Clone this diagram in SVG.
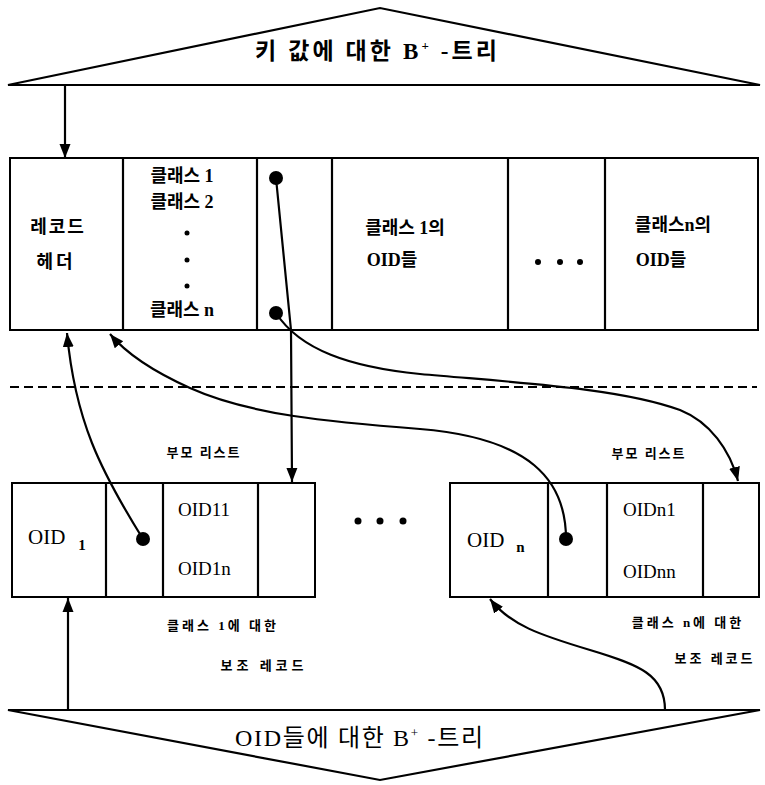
<svg xmlns="http://www.w3.org/2000/svg" width="765" height="785" viewBox="0 0 765 785">
<style>
.ln{fill:none;stroke:#000;stroke-width:2.2}
.bx{fill:#fff;stroke:#000;stroke-width:2}
.kr{font-family:"Liberation Serif","Noto Sans CJK KR",serif;font-weight:bold;fill:#000}
.sr{font-family:"Liberation Serif","Noto Sans CJK KR",serif;fill:#000}
.dash{fill:none;stroke:#000;stroke-width:1.8;stroke-dasharray:9,5}
</style>
<defs>
<marker id="ah" markerUnits="userSpaceOnUse" markerWidth="14" markerHeight="14" viewBox="0 0 14 14" refX="14" refY="7" orient="auto">
<path d="M0,1.5 L14,7 L0,12.5 Z" fill="#000"/>
</marker>
</defs>
<rect width="765" height="785" fill="#fff"/>

<g id="top-tree">
<path class="ln" d="M8,85 L380,8 L760,85 Z" stroke-width="2.5"/>
<text class="kr" x="376" y="59" font-size="23" text-anchor="middle" textLength="242" lengthAdjust="spacing">키 값에 대한 B<tspan font-size="13" dy="-9">+</tspan><tspan dy="9"> -트리</tspan></text>
</g>

<g id="main-record">
<rect class="bx" x="10" y="158" width="748" height="172"/>
<line class="ln" x1="123" y1="158" x2="123" y2="330"/>
<line class="ln" x1="257" y1="158" x2="257" y2="330"/>
<line class="ln" x1="332" y1="158" x2="332" y2="330"/>
<line class="ln" x1="508" y1="158" x2="508" y2="330"/>
<line class="ln" x1="605" y1="158" x2="605" y2="330"/>
<text class="kr" x="58" y="233" font-size="18" text-anchor="middle" letter-spacing="2">레코드</text>
<text class="kr" x="56" y="268" font-size="18" text-anchor="middle" letter-spacing="3">헤더</text>
<text class="kr" x="182" y="182" font-size="18" text-anchor="middle">클래스 1</text>
<text class="kr" x="182" y="208" font-size="18" text-anchor="middle">클래스 2</text>
<circle cx="187" cy="233" r="2.5"/>
<circle cx="187" cy="260" r="2.5"/>
<circle cx="187" cy="286" r="2.5"/>
<text class="kr" x="182" y="316" font-size="18" text-anchor="middle">클래스 n</text>
<text class="kr" x="405" y="234" font-size="18" text-anchor="middle">클래스 1의</text>
<text class="kr" x="392" y="266" font-size="18" text-anchor="middle">OID들</text>
<circle cx="538" cy="262" r="3"/>
<circle cx="560" cy="262" r="3"/>
<circle cx="580" cy="262" r="3"/>
<text class="kr" x="673" y="231" font-size="18" text-anchor="middle">클래스n의</text>
<text class="kr" x="661" y="266" font-size="18" text-anchor="middle">OID들</text>
<circle cx="276" cy="178" r="7"/>
<circle cx="276" cy="313" r="7"/>
</g>

<line id="separator" class="dash" x1="10" y1="387" x2="757" y2="387"/>

<g id="aux-record-1">
<rect class="bx" x="12" y="483" width="303" height="114"/>
<line class="ln" x1="106" y1="483" x2="106" y2="597"/>
<line class="ln" x1="163" y1="483" x2="163" y2="597"/>
<line class="ln" x1="258" y1="483" x2="258" y2="597"/>
<text class="sr" x="28" y="544" font-size="21">OID<tspan font-size="15" font-weight="bold" dx="13" dy="6">1</tspan></text>
<text class="sr" x="178" y="516" font-size="19">OID11</text>
<text class="sr" x="178" y="575" font-size="19">OID1n</text>
<circle cx="143" cy="539" r="7"/>
<text class="kr" x="204" y="457" font-size="13" text-anchor="middle" letter-spacing="2">부모 리스트</text>
<text class="kr" x="223" y="630" font-size="13" text-anchor="middle" letter-spacing="3">클래스 1에 대한</text>
<text class="kr" x="264" y="670" font-size="13" text-anchor="middle" letter-spacing="4">보조 레코드</text>
</g>

<g id="ellipsis">
<circle cx="358" cy="521" r="3.5"/>
<circle cx="380" cy="521" r="3.5"/>
<circle cx="403" cy="521" r="3.5"/>
</g>

<g id="aux-record-n">
<rect class="bx" x="450" y="483" width="309" height="114"/>
<line class="ln" x1="548" y1="483" x2="548" y2="597"/>
<line class="ln" x1="607" y1="483" x2="607" y2="597"/>
<line class="ln" x1="703" y1="483" x2="703" y2="597"/>
<text class="sr" x="467" y="547" font-size="21">OID<tspan font-size="15" font-weight="bold" dx="12" dy="5">n</tspan></text>
<text class="sr" x="623" y="516" font-size="19">OIDn1</text>
<text class="sr" x="623" y="578" font-size="19">OIDnn</text>
<circle cx="566" cy="539" r="7"/>
<text class="kr" x="649" y="458" font-size="13" text-anchor="middle" letter-spacing="2">부모 리스트</text>
<text class="kr" x="688" y="627" font-size="13" text-anchor="middle" letter-spacing="3">클래스 n에 대한</text>
<text class="kr" x="715" y="663" font-size="13" text-anchor="middle" letter-spacing="3">보조 레코드</text>
</g>

<g id="bottom-tree">
<path class="ln" d="M8,710 L380,780 L760,710 Z" stroke-width="2.5"/>
<text class="sr" x="359" y="746" font-size="24" text-anchor="middle" textLength="248" lengthAdjust="spacing">OID들에 대한 B<tspan font-size="13" dy="-9">+</tspan><tspan dy="9"> -트리</tspan></text>
</g>

<g id="connectors">
<path class="ln" d="M65,85 L65,158" marker-end="url(#ah)"/>
<path class="ln" d="M276,178 L291,330 L292,482" marker-end="url(#ah)"/>
<path class="ln" d="M276,313 C300,350 350,367 420,374 C520,383 620,388 680,410 C710,422 730,450 738,481" marker-end="url(#ah)"/>
<path class="ln" d="M566,539 C566,480 530,438 420,429 C330,422 250,415 190,388 C150,370 125,352 110,334" marker-end="url(#ah)"/>
<path class="ln" d="M143,539 C100,470 75,420 67,333" marker-end="url(#ah)"/>
<path class="ln" d="M68,710 L68,598" marker-end="url(#ah)"/>
<path class="ln" d="M665,710 C665,675 640,665 590,650 C540,635 510,625 490,599" marker-end="url(#ah)"/>
</g>
</svg>
